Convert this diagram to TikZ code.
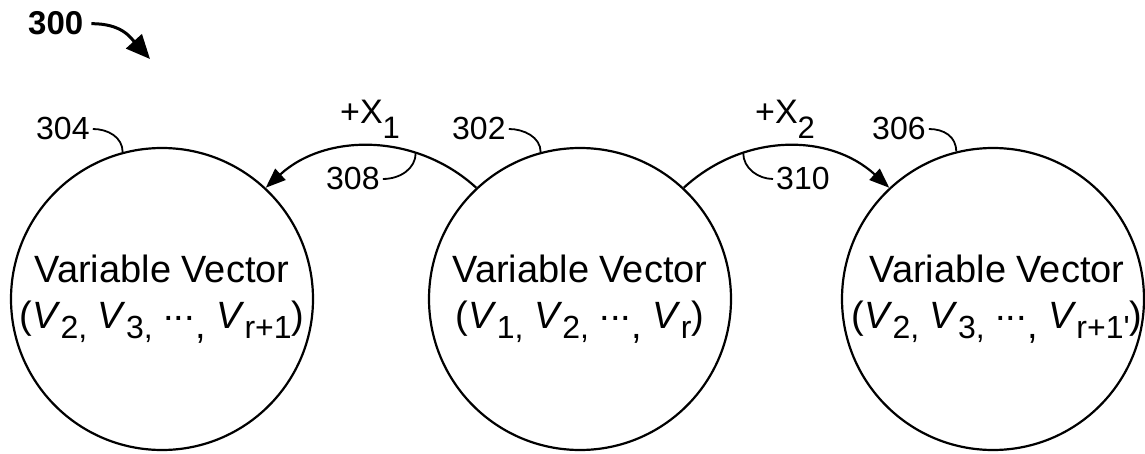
\documentclass[tikz,border=0pt]{standalone}
\usepackage{fontspec}
\setmainfont{Liberation Sans}
\usetikzlibrary{arrows.meta}
\tikzset{
  vcircle/.style={circle, draw, line width=2.2pt, minimum size=302pt, inner sep=0pt},
  vtext/.style={anchor=base, inner sep=0pt, font=\fontsize{38}{44}\selectfont},
  reflabel/.style={inner sep=0pt, anchor=base west, font=\fontsize{32}{36}\selectfont},
  leader/.style={line width=1.8pt},
  transition/.style={line width=2.2pt, -{Triangle[length=20pt,width=15pt]}},
}
\newcommand{\Vsub}[1]{\textit{V}\raisebox{-10pt}{\fontsize{32}{32}\selectfont #1}}
\newcommand{\lowcomma}{\raisebox{-10pt}{,}}
\newcommand{\middots}{\raisebox{8pt}{...}}
\newcommand{\Xsub}[1]{\raisebox{-15pt}{\fontsize{31}{31}\selectfont #1}}
\begin{document}
\begin{tikzpicture}[x=1pt,y=1pt]
\useasboundingbox (0,0) rectangle (1145,453);
% circles
\node[vcircle] (c304) at (162,154) {};
\node[vcircle] (c302) at (580,154) {};
\node[vcircle] (c306) at (993,154) {};
% circle texts
\node[vtext] (t304a) at (162,171) {Variable Vector};
\node[vtext] (t304b) at (162,125) {(\Vsub{2,} \Vsub{3,} \middots\lowcomma{} \Vsub{r+1})};
\node[vtext] (t302a) at (580,171) {Variable Vector};
\node[vtext] (t302b) at (580,125) {(\Vsub{1,} \Vsub{2,} \middots\lowcomma{} \Vsub{r})};
\node[vtext] (t306a) at (997,171) {Variable Vector};
\node[vtext] (t306b) at (997,125) {(\Vsub{2,} \Vsub{3,} \middots\lowcomma{} \Vsub{r+1\textquotesingle})};
% reference labels
\node[reflabel] (l304) at (36,313) {304};
\node[reflabel] (l302) at (452,313) {302};
\node[reflabel] (l306) at (872,313) {306};
\node[reflabel] (l308) at (326,263) {308};
\node[reflabel] (l310) at (776,263) {310};
\node[reflabel, font=\fontsize{33}{36}\selectfont\bfseries] (l300) at (28,418) {300};
\node[reflabel, font=\fontsize{34}{38}\selectfont] (lx1) at (340,329) {+X\Xsub{1}};
\node[reflabel, font=\fontsize{34}{38}\selectfont] (lx2) at (755,329) {+X\Xsub{2}};
% transitions
\draw[transition] (c302.133) .. controls +(-60,55) and +(60,55) .. (c304.47) coordinate[pos=0.3] (a308);
\draw[transition] (c302.47) .. controls +(60,55) and +(-60,55) .. (c306.133) coordinate[pos=0.3] (a310);
% leaders
\draw[leader] ([xshift=3pt]l304.east) .. controls +(15,0) and +(0,15) .. (c304.105);
\draw[leader] ([xshift=3pt]l302.east) .. controls +(15,0) and +(0,15) .. (c302.105);
\draw[leader] ([xshift=3pt]l306.east) .. controls +(15,0) and +(0,15) .. (c306.104);
\draw[leader] ([xshift=3pt]l308.east) .. controls +(18,0) and +(0,-15) .. (a308);
\draw[leader] ([xshift=-3pt]l310.west) .. controls +(-15,0) and +(0,-15) .. (a310);
% figure arrow
\coordinate (p300) at (150,394);
\draw[line width=3pt, -{Triangle[length=24pt,width=21pt]}] ([xshift=8pt]l300.east) .. controls +(30,0) and +(-20,22) .. (p300);
\end{tikzpicture}
\end{document}
